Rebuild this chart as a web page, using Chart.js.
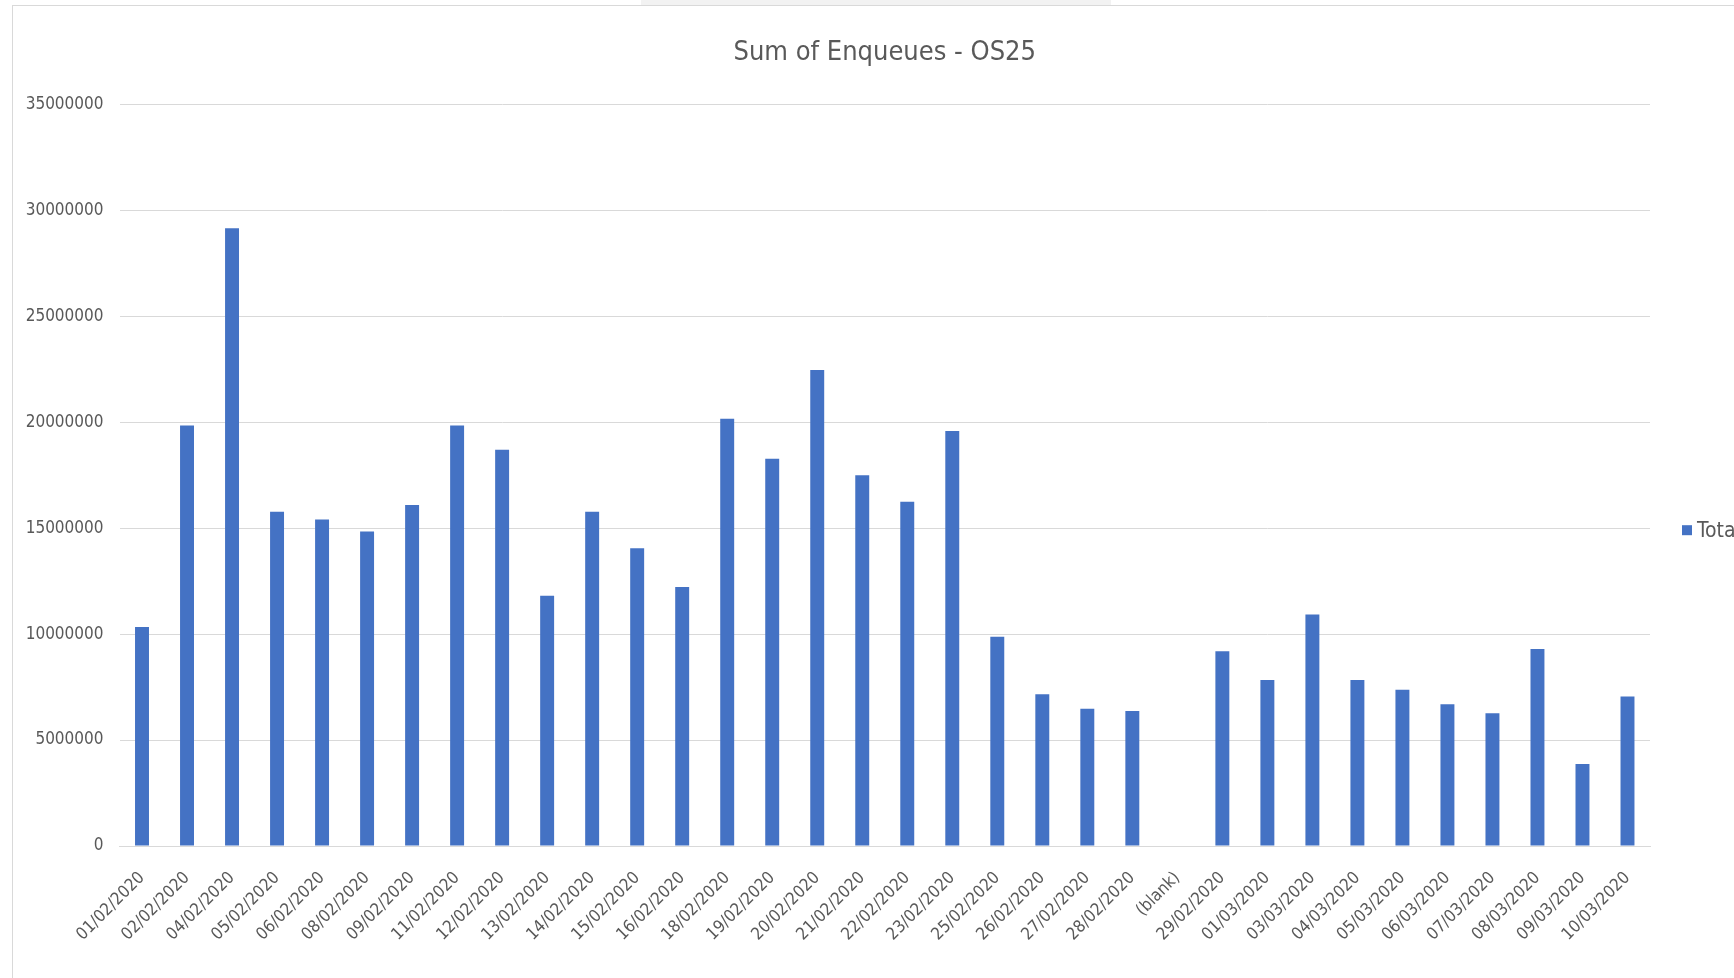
<!DOCTYPE html>
<html>
<head>
<meta charset="utf-8">
<title>Sum of Enqueues - OS25</title>
<script src="https://cdn.jsdelivr.net/npm/chart.js@4.4.1/dist/chart.umd.min.js"></script>
<style>
    html, body { margin: 0; padding: 0; background: #fff; overflow: hidden; }
    #wrap { position: relative; width: 1734px; height: 978px; }
    #frame { position: absolute; left: 12px; top: 5px; width: 1730px; height: 980px;
             border-left: 1px solid #d9d9d9; border-top: 1px solid #d9d9d9; }
    #tab { position: absolute; left: 641px; top: 0; width: 470px; height: 5px; background: #f2f2f2; }
    canvas { position: absolute; left: 0; top: 0; }
</style>
</head>
<body>
<div id="wrap">
    <div id="tab"></div>
    <div id="frame"></div>
    <canvas id="enqChart" width="1734" height="978"></canvas>
</div>
<script>
// Datos
const dates = ['01/02/2020', '02/02/2020', '04/02/2020', '05/02/2020', '06/02/2020', '08/02/2020',
    '09/02/2020', '11/02/2020', '12/02/2020', '13/02/2020', '14/02/2020', '15/02/2020',
    '16/02/2020', '18/02/2020', '19/02/2020', '20/02/2020', '21/02/2020', '22/02/2020',
    '23/02/2020', '25/02/2020', '26/02/2020', '27/02/2020', '28/02/2020', '(blank)',
    '29/02/2020', '01/03/2020', '03/03/2020', '04/03/2020', '05/03/2020', '06/03/2020',
    '07/03/2020', '08/03/2020', '09/03/2020', '10/03/2020'];

const totals = [10340000, 19850000, 29150000, 15780000, 15410000, 14840000,
    16090000, 19850000, 18700000, 11810000, 15780000, 14050000,
    12220000, 20160000, 18280000, 22460000, 17500000, 16250000,
    19590000, 9870000, 7160000, 6480000, 6370000, null,
    9190000, 7840000, 10920000, 7840000, 7370000, 6690000,
    6270000, 9300000, 3870000, 7050000];

const yTicks = [0, 5000000, 10000000, 15000000, 20000000, 25000000, 30000000, 35000000];

const seriesName = 'Total';
const barColor = '#4472C4';
const textColor = '#595959';
const gridColor = '#d9d9d9';
const fontFamily = '"Liberation Sans Narrow", "DejaVu Sans Condensed", "Liberation Sans", sans-serif';

// Leyenda a la derecha (cortada por el borde como en la original)
const sideLegend = {
    id: 'sideLegend',
    afterDraw(chart) {
        const { ctx, chartArea } = chart;
        const x = chartArea.right + 32;
        const y = (chartArea.top + chartArea.bottom) / 2 + 55;
        ctx.save();
        ctx.fillStyle = barColor;
        ctx.fillRect(x, y - 5, 10, 10);
        ctx.fillStyle = textColor;
        ctx.font = '21px ' + fontFamily;
        ctx.textBaseline = 'middle';
        ctx.fillText(seriesName, x + 15, y + 1);
        ctx.restore();
    }
};

const ctx = document.getElementById('enqChart').getContext('2d');
new Chart(ctx, {
    type: 'bar',
    data: {
        labels: dates,
        datasets: [{
            label: seriesName,
            data: totals,
            backgroundColor: barColor,
            categoryPercentage: 1,
            barPercentage: 0.31
        }]
    },
    options: {
        responsive: false,
        animation: false,
        layout: {
            padding: { left: 0, right: 84, top: 0, bottom: 0 }
        },
        scales: {
            x: {
                grid: { display: false },
                border: { display: true, color: gridColor, width: 1 },
                ticks: {
                    autoSkip: false,
                    maxRotation: 45,
                    minRotation: 45,
                    padding: 14,
                    color: textColor,
                    font: { family: fontFamily, size: 17 }
                },
                afterFit: scale => { scale.height = 132; }
            },
            y: {
                min: 0,
                max: 35000000,
                afterBuildTicks: scale => { scale.ticks = yTicks.map(v => ({ value: v })); },
                grid: { color: gridColor, drawTicks: false },
                border: { display: false },
                ticks: {
                    padding: 16,
                    color: textColor,
                    font: { family: fontFamily, size: 17 },
                    callback: value => String(value)
                },
                afterFit: scale => { scale.width = 119.5; }
            }
        },
        plugins: {
            legend: { display: false },
            tooltip: { enabled: false },
            title: {
                display: true,
                fullSize: false,
                text: 'Sum of Enqueues - OS25',
                color: textColor,
                font: { family: fontFamily, size: 27, weight: 'normal' },
                padding: { top: 37, bottom: 35 }
            }
        }
    },
    plugins: [sideLegend]
});
</script>
</body>
</html>
